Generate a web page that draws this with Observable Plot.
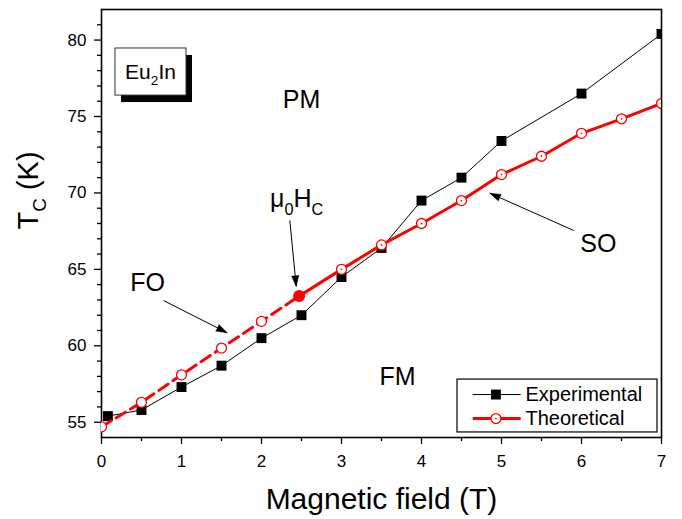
<!DOCTYPE html>
<html><head><meta charset="utf-8">
<script src="https://cdn.jsdelivr.net/npm/d3@7"></script>
<script src="https://cdn.jsdelivr.net/npm/@observablehq/plot@0.6"></script>
<style>body{margin:0;background:#fff}</style>
</head><body><div id="chart"></div>
<script>
// ---- data ----
const expX = [0.08, 0.5, 1, 1.5, 2, 2.5, 3, 3.5, 4, 4.5, 5, 6, 7];
const expY = [55.4, 55.8, 57.3, 58.7, 60.5, 62.0, 64.5, 66.4, 69.5, 71.0, 73.4, 76.5, 80.4];
const thX = [0, 0.5, 1, 1.5, 2, 2.47, 3, 3.5, 4, 4.5, 5, 5.5, 6, 6.5, 7];
const thY = [54.7, 56.3, 58.1, 59.85, 61.6, 63.25, 65.0, 66.6, 68.0, 69.5, 71.2, 72.4, 73.9, 74.85, 75.85];
const criticalField = 2.47;
const xTicks = [0, 1, 2, 3, 4, 5, 6, 7];
const xMinor = [0.5, 1.5, 2.5, 3.5, 4.5, 5.5, 6.5];
const yTicks = [55, 60, 65, 70, 75, 80];
const yMinor = [56, 57, 58, 59, 61, 62, 63, 64, 66, 67, 68, 69, 71, 72, 73, 74, 76, 77, 78, 79, 81];
const seriesNames = ["Experimental", "Theoretical"];
const xLabel = "Magnetic field (T)";
const yLabel = "T_{C} (K)";
// annotations (data units)
const phaseLabels = [
  {x: 2.5, y: 76.05, text: "PM"},
  {x: 3.7, y: 57.93, text: "FM"},
  {x: 0.575, y: 64.14, text: "FO"},
  {x: 6.21, y: 66.69, text: "SO"},
  {x: 2.44, y: 69.6, text: "μ_{0}H_{C}"}
];
const arrows = [
  {x1: 2.354, y1: 68.2, x2: 2.434, y2: 63.88},
  {x1: 0.775, y1: 62.96, x2: 1.571, y2: 60.85},
  {x1: 5.904, y1: 67.54, x2: 4.854, y2: 69.98}
];
const sampleBox = {x1: 0.175, x2: 1.0625, y1: 76.37, y2: 79.45, text: "Eu_{2}In", tx: 0.6125, ty: 77.88};
const legendBox = {x1: 4.45, x2: 6.95, y1: 54.33, y2: 57.79};
const legendRows = [
  {name: seriesNames[0], y: 56.81},
  {name: seriesNames[1], y: 55.24}
];
const legendLine = {x1: 4.64, x2: 5.24, xm: 4.93, xt: 5.3};

const expData = expX.map((x, i) => ({x, y: expY[i]}));
const thData = thX.map((x, i) => ({x, y: thY[i]}));
const RED = "#ff0000";
const FONT = "'Liberation Sans', Arial, Helvetica, sans-serif";

function makePlot(angles) {
  const marks = [
    Plot.frame({stroke: "black", strokeWidth: 1.6}),
    Plot.axisX({ticks: xTicks, tickSize: 7, tickPadding: 10, fontSize: 17, strokeWidth: 1.3, label: null, tickFormat: d => String(d)}),
    Plot.axisX({ticks: xMinor, tickSize: 4, tickFormat: () => "", strokeWidth: 1.3, label: null}),
    Plot.axisY({ticks: yTicks, tickSize: 7, tickPadding: 8, fontSize: 17, strokeWidth: 1.3, label: null, tickFormat: d => String(d)}),
    Plot.axisY({ticks: yMinor, tickSize: 4, tickFormat: () => "", strokeWidth: 1.3, label: null}),
    // sample label box
    Plot.rect([sampleBox], {x1: "x1", x2: "x2", y1: "y1", y2: "y2", fill: "black", dx: 6, dy: 7}),
    Plot.rect([sampleBox], {x1: "x1", x2: "x2", y1: "y1", y2: "y2", fill: "white", stroke: "#333", strokeWidth: 1}),
    Plot.text([sampleBox], {x: "tx", y: "ty", text: "text", fontSize: 21, fill: "black"}),
    // phase labels
    Plot.text(phaseLabels, {x: "x", y: "y", text: "text", fontSize: 25, fill: "black"}),
    // arrows
    Plot.link(arrows, {x1: "x1", y1: "y1", x2: "x2", y2: "y2", stroke: "black", strokeWidth: 1}),
    // experimental
    Plot.line(expData, {x: "x", y: "y", stroke: "black", strokeWidth: 1, clip: true}),
    Plot.dot(expData, {x: "x", y: "y", symbol: "square", r: 5.6, fill: "black", clip: true}),
    // theoretical
    Plot.line(thData.filter(d => d.x <= criticalField), {x: "x", y: "y", stroke: RED, strokeWidth: 3, strokeDasharray: "11,6", clip: true}),
    Plot.line(thData.filter(d => d.x >= criticalField), {x: "x", y: "y", stroke: RED, strokeWidth: 3, clip: true}),
    Plot.dot(thData.filter(d => d.x !== criticalField), {x: "x", y: "y", r: 5, stroke: RED, strokeWidth: 1.3, fill: "white", clip: true}),
    Plot.dot(thData.filter(d => d.x > criticalField), {x: "x", y: "y", r: 0.9, fill: RED, clip: true}),
    Plot.dot(thData.filter(d => d.x === criticalField), {x: "x", y: "y", r: 6, fill: RED}),
    // legend
    Plot.rect([legendBox], {x1: "x1", x2: "x2", y1: "y1", y2: "y2", fill: "white", stroke: "black", strokeWidth: 1.2}),
    Plot.link([legendRows[0]], {x1: () => legendLine.x1, x2: () => legendLine.x2, y1: "y", y2: "y", stroke: "black", strokeWidth: 1}),
    Plot.dot([legendRows[0]], {x: () => legendLine.xm, y: "y", symbol: "square", r: 5.6, fill: "black"}),
    Plot.link([legendRows[1]], {x1: () => legendLine.x1, x2: () => legendLine.x2, y1: "y", y2: "y", stroke: RED, strokeWidth: 3}),
    Plot.dot([legendRows[1]], {x: () => legendLine.xm, y: "y", r: 5, stroke: RED, strokeWidth: 1.3, fill: "white"}),
    Plot.dot([legendRows[1]], {x: () => legendLine.xm, y: "y", r: 0.9, fill: RED}),
    Plot.text(legendRows, {x: () => legendLine.xt, y: "y", text: "name", textAnchor: "start", fontSize: 20, fill: "black"}),
    // axis titles
    Plot.text([xLabel], {text: d => d, frameAnchor: "bottom", dy: 71, lineAnchor: "bottom", fontSize: 30, fill: "black"}),
    Plot.text([yLabel], {text: d => d, frameAnchor: "left", dx: -64, dy: 6, rotate: -90, lineAnchor: "bottom", fontSize: 29, fill: "black"})
  ];
  if (angles) {
    marks.push(Plot.vector(arrows.map((a, i) => ({...a, rot: angles[i]})), {
      x: "x2", y: "y2", rotate: "rot", length: 11, r: 3.6, shape: "spike", anchor: "end", fill: "black", stroke: "black", strokeWidth: 0.5
    }));
  }
  return Plot.plot({
    width: 682, height: 519,
    marginLeft: 101, marginRight: 21, marginTop: 9, marginBottom: 82,
    x: {domain: [0, 7]},
    y: {domain: [54, 82]},
    style: {fontFamily: FONT, background: "white", color: "black", overflow: "visible"},
    marks
  });
}

function applySubs(svg) {
  d3.select(svg).selectAll("text").each(function() {
    const el = this;
    const s = el.textContent;
    if (!s.includes("_{")) return;
    const fs = parseFloat(getComputedStyle(el).fontSize) || parseFloat(el.getAttribute("font-size")) || 16;
    const parts = s.split(/(_\{[^}]*\})/).filter(p => p.length);
    while (el.firstChild) el.removeChild(el.firstChild);
    let shifted = false;
    const shift = 0.3 * fs;
    for (const p of parts) {
      const ts = document.createElementNS("http://www.w3.org/2000/svg", "tspan");
      if (p.startsWith("_{")) {
        ts.textContent = p.slice(2, -1);
        ts.setAttribute("dy", shift);
        ts.setAttribute("font-size", (0.65 * fs) + "px");
        shifted = true;
      } else {
        ts.textContent = p;
        if (shifted) { ts.setAttribute("dy", -shift); shifted = false; }
      }
      el.appendChild(ts);
    }
  });
}

const first = makePlot(null);
const sx = first.scale("x"), sy = first.scale("y");
const angles = arrows.map(a => {
  const dx = sx.apply(a.x2) - sx.apply(a.x1);
  const dy = sy.apply(a.y2) - sy.apply(a.y1);
  return Math.atan2(dx, -dy) * 180 / Math.PI;
});
const chart = makePlot(angles);
document.getElementById("chart").appendChild(chart);
applySubs(chart);
</script>
</body></html>
